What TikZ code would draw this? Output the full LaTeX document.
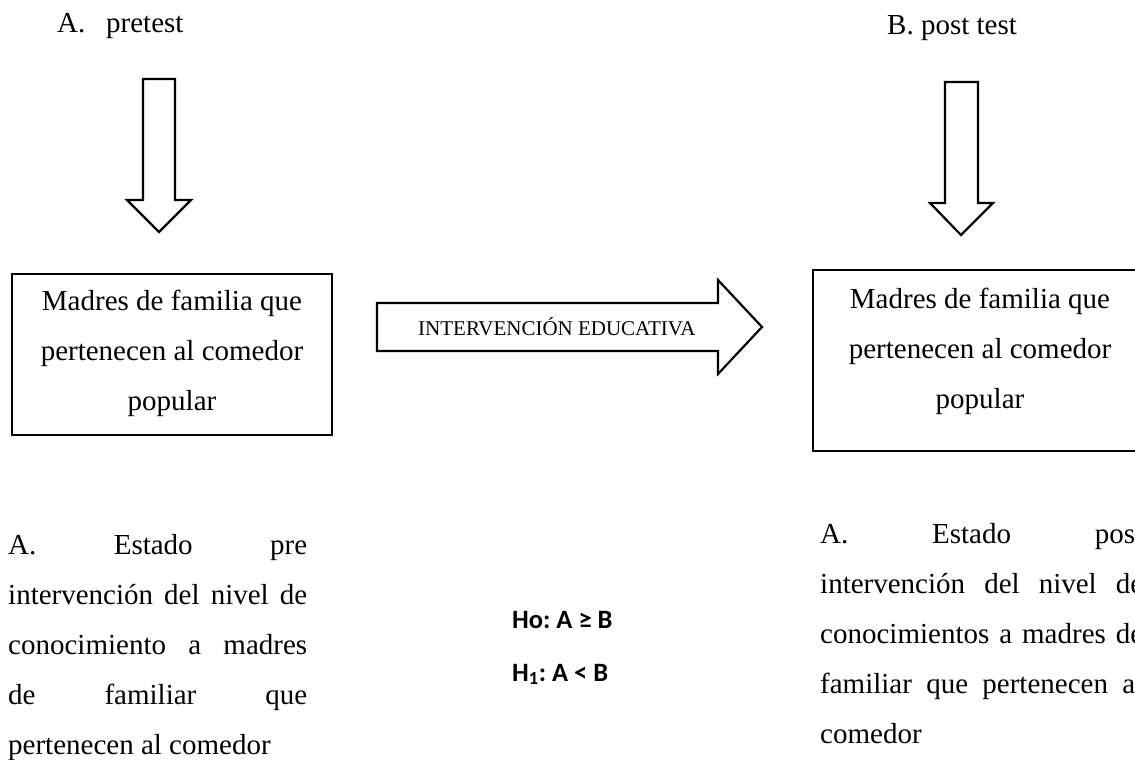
\documentclass[tikz,border=0pt]{standalone}
\usepackage{fontspec}
\setmainfont{Liberation Serif}
\newfontfamily\calib{Carlito}
\newcommand{\jl}[1]{\hbox to\hsize{#1}}
\frenchspacing
\begin{document}
\begin{tikzpicture}[x=1pt,y=-1pt,
  txt/.style={inner sep=0pt, font=\fontsize{29}{50}\selectfont},
  boxframe/.style={draw, line width=1.3pt, inner sep=0pt},
  blockarrow/.style={draw, line width=2.2pt, line join=miter},
  hyp/.style={inner sep=0pt, anchor=base west, font=\calib\bfseries\fontsize{26.5}{30}\selectfont}]
\useasboundingbox (0,0) rectangle (1135,760);
\clip (0,0) rectangle (1135,760);

% headings
\node[txt, anchor=base west] (preLabel) at (57,33) {\makebox[49pt][l]{A.}pretest};
\node[txt, anchor=base west] (postLabel) at (887,35) {B. post test};

% down arrows
\draw[blockarrow] (143,79) -- (175,79) -- (175,200) -- (191,200) -- (159,232) -- (127,200) -- (143,200) -- cycle;
\draw[blockarrow] (945,82) -- (978,82) -- (978,203) -- (993,203) -- (961,235) -- (930,203) -- (945,203) -- cycle;

% boxes
\node[boxframe, minimum width=320pt, minimum height=161pt] (preBox) at (172,354.5) {};
\node[txt, anchor=north, align=center] (preBoxText) at (172,285) {\rule{0pt}{25pt}Madres de familia que\\pertenecen al comedor\\popular};

\node[boxframe, line width=1.1pt, minimum width=334pt, minimum height=181pt] (postBox) at (980,360.5) {};
\node[txt, anchor=north, align=center] (postBoxText) at (980,283) {\rule{0pt}{25pt}Madres de familia que\\pertenecen al comedor\\popular};

% middle arrow
\draw[blockarrow] (377,303) -- (718,303) -- (718,280) -- (762,327) -- (718,374) -- (718,351) -- (377,351) -- cycle;
\node[inner sep=0pt, anchor=base west, font=\fontsize{21}{25}\selectfont] (interv) at (418,335) {INTERVENCIÓN EDUCATIVA};

% bottom paragraphs
\node[txt, anchor=north west] (preState) at (8,529) {\vbox{\hsize=299pt \baselineskip=50pt
  \jl{\rule{0pt}{25pt}A. Estado pre}
  \jl{intervención del nivel de}
  \jl{conocimiento a madres}
  \jl{de familiar que}
  \hbox{pertenecen al comedor}}};

\node[txt, anchor=north west] (postState) at (820,518) {\vbox{\hsize=323pt \baselineskip=50pt
  \jl{\rule{0pt}{25pt}A. Estado post}
  \jl{intervención del nivel de}
  \jl{conocimientos a madres de}
  \jl{familiar que pertenecen al}
  \hbox{comedor}}};

% hypotheses
\node[hyp] (h0) at (512,628) {Ho: A ≥ B};
\node[hyp] (h1) at (512,681) {H\textsubscript{1}: A < B};
\end{tikzpicture}
\end{document}
